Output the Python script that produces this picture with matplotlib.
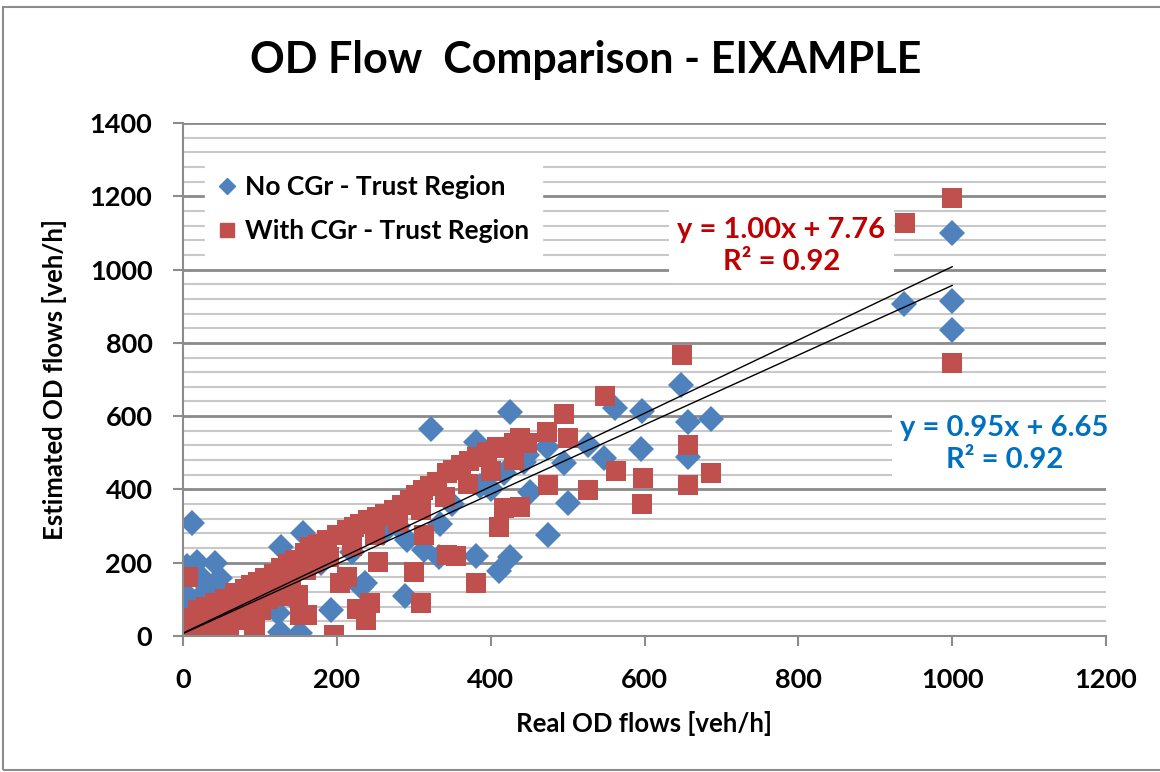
import numpy as np
import matplotlib.pyplot as plt
from matplotlib.lines import Line2D
from matplotlib.patches import Rectangle

plt.rcParams['font.family'] = ['Lato', 'DejaVu Sans']

# Data (real vs estimated OD flows, veh/h)
no_cgr_real = [0, 3, 3, 12, 18, 42, 5, 24, 48, 33, 10, 20, 45, 15, 30, 55, 60, 70,
               80, 100, 128, 156, 124, 126, 152, 146, 180, 193, 220, 232, 237, 260,
               280, 289, 291, 313, 333, 334, 323, 350, 381, 381, 386, 400, 411, 417,
               425, 425, 443, 451, 474, 473, 447, 495, 501, 526, 547, 562, 596, 597,
               648, 656, 656, 687, 938, 1000, 1000, 1000]
no_cgr_est = [8, 71, 116, 309, 203, 199, 190, 162, 157, 135, 40, 100, 60, 20, 10, 110, 30, 50,
              90, 120, 244, 282, 62, 12, 7, 98, 200, 71, 230, 135, 144, 280,
              300, 109, 262, 235, 216, 307, 565, 360, 219, 530, 408, 400, 177, 446,
              216, 610, 476, 394, 276, 517, 494, 471, 362, 521, 485, 622, 509, 615,
              685, 585, 489, 592, 905, 1099, 913, 835]

cgr_real = [0, 5, 20, 30, 42, 55, 68, 80, 89, 98, 107, 118, 128, 137, 146, 159, 165, 176,
            187, 200, 213, 222, 230, 241, 252, 263, 274, 285, 295, 303, 312, 321, 330,
            343, 351, 362, 372, 382, 395, 408, 421, 430, 438, 447, 473, 501, 495,
            40, 70, 100, 130, 160, 190, 220, 250, 280, 310, 340, 370, 400, 430,
            0, 3, 10, 15, 25, 29, 35, 40, 50, 57, 60, 65, 76, 85, 94, 92, 102, 110,
            120, 130, 140, 152, 150, 161, 170, 7,
            196, 204, 213, 226, 238, 243, 254, 300, 310, 313, 343, 355, 381, 411, 417,
            438, 475, 526, 563, 598, 597, 656, 656, 687, 649, 548, 939, 1000, 1000]
cgr_est = [48, 30, 71, 80, 89, 100, 116, 128, 139, 148, 157, 170, 185, 196, 207, 226, 244, 252,
           262, 275, 289, 298, 307, 316, 325, 334, 344, 358, 371, 385, 398, 410, 421,
           444, 453, 466, 478, 489, 503, 517, 512, 528, 539, 526, 558, 539, 606,
           60, 90, 120, 150, 180, 215, 245, 275, 310, 345, 380, 415, 450, 480,
           0, 0, 10, 25, 15, 8, 40, 20, 55, 0, 30, 70, 44, 80, 25, 12, 71, 100,
           130, 110, 150, 57, 112, 57, 200, 162,
           3, 144, 162, 73, 44, 89, 203, 176, 89, 275, 221, 219, 146, 298, 349,
           353, 412, 398, 449, 430, 360, 412, 521, 444, 767, 655, 1126, 1194, 746]

# trendline coefficients shown on the chart
fit_no_cgr = (0.95, 6.65)
fit_cgr = (1.00, 7.76)

blue = '#4F81BD'
red = '#C0504D'

fig = plt.figure(figsize=(11.6, 7.72), dpi=100)
ax = fig.add_axes([183 / 1160, 1 - 636 / 772, 923 / 1160, 513 / 772])

# outer chart border (right edge falls outside the image)
fig.patches.append(Rectangle((0.003, 0.003), 1.05, 0.988, transform=fig.transFigure,
                             fill=False, edgecolor='#8c8c8c', linewidth=1.5))

ax.set_xlim(0, 1200)
ax.set_ylim(0, 1400)
ax.set_xticks(np.arange(0, 1201, 200))
ax.set_yticks(np.arange(0, 1401, 200))
ax.set_yticks(np.arange(0, 1401, 40), minor=True)
ax.grid(axis='y', which='minor', color='#c8c8c8', linewidth=1.5)
ax.grid(axis='y', which='major', color='#8a8a8a', linewidth=2)
ax.set_axisbelow(True)
for s in ['top', 'right']:
    ax.spines[s].set_visible(False)
for s in ['left', 'bottom']:
    ax.spines[s].set_color('#8c8c8c')
    ax.spines[s].set_linewidth(1.5)
ax.tick_params(axis='both', which='major', length=7, color='#8c8c8c', width=1.5)
ax.tick_params(axis='y', which='minor', length=0)
ax.tick_params(axis='y', pad=15)
ax.tick_params(axis='x', pad=16)
ax.tick_params(labelsize=19.5)
for lab in ax.get_xticklabels() + ax.get_yticklabels():
    lab.set_fontweight('bold')

ax.plot(no_cgr_real, no_cgr_est, 'D', color=blue, markersize=13, markeredgewidth=0)
ax.plot(cgr_real, cgr_est, 's', color=red, markersize=15, markeredgewidth=0)

xs = np.array([0, 1000])
ax.plot(xs, fit_cgr[0] * xs + fit_cgr[1], color='black', linewidth=1)
ax.plot(xs, fit_no_cgr[0] * xs + fit_no_cgr[1], color='black', linewidth=1)

ax.text(778, 1064, 'y = 1.00x + 7.76\nR² = 0.92', color='#C00000', fontsize=21,
        fontweight='bold', ha='center', va='center', linespacing=1.25,
        bbox=dict(facecolor='white', edgecolor='none', pad=6))
ax.text(1068, 524, 'y = 0.95x + 6.65\nR² = 0.92', color='#0070C0', fontsize=21,
        fontweight='bold', ha='center', va='center', linespacing=1.25,
        bbox=dict(facecolor='white', edgecolor='none', pad=6))

handles = [Line2D([], [], marker='D', color=blue, linestyle='none', markersize=8),
           Line2D([], [], marker='s', color=red, linestyle='none', markersize=10)]
leg = ax.legend(handles, ['No CGr - Trust Region', 'With CGr - Trust Region'],
                loc='upper left', bbox_to_anchor=(0.01, 0.95), frameon=True,
                fancybox=False, framealpha=1, edgecolor='white', fontsize=19,
                handlelength=0.6, handletextpad=0.4, labelspacing=0.75, borderpad=0.5)
for t in leg.get_texts():
    t.set_fontweight('bold')

ax.set_xlabel('Real OD flows [veh/h]', fontsize=18.5, fontweight='bold', labelpad=14)
ax.set_ylabel('Estimated OD flows [veh/h]', fontsize=18.5, fontweight='bold', labelpad=16)
fig.text(0.505, 0.922, 'OD Flow  Comparison - EIXAMPLE', fontsize=31, fontweight='bold',
         ha='center', va='center')

fig.savefig('out.png', dpi=100)
